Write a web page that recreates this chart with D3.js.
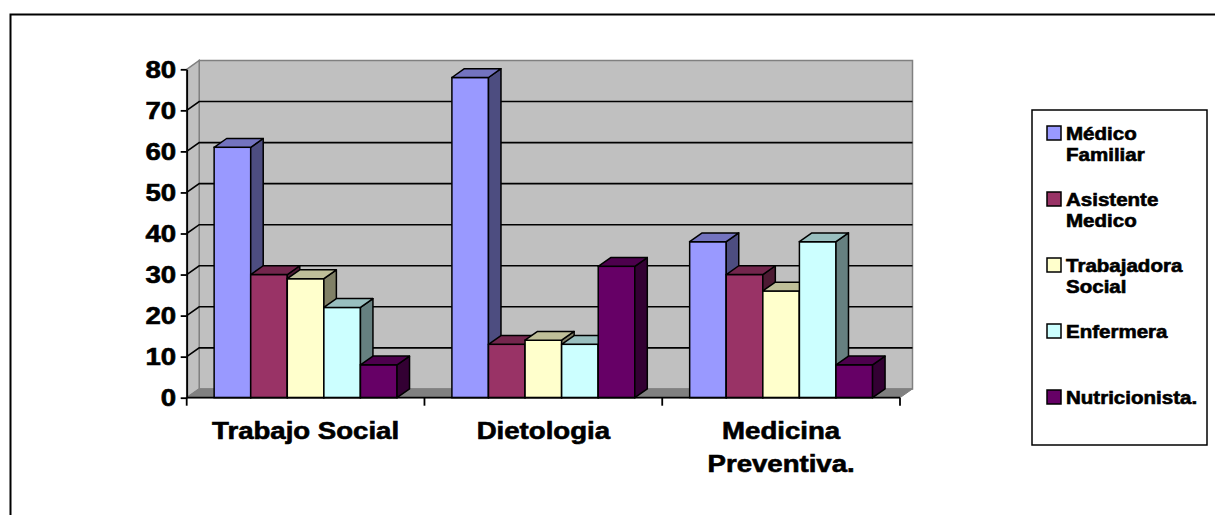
<html>
<head>
    <meta charset="utf-8">
    <script src="https://d3js.org/d3.v7.min.js" charset="utf-8"></script>
    <style type="text/css">
        body { margin: 0; background: #fff; }
        text { font-family: "Liberation Sans", Arial, sans-serif; font-weight: bold; fill: #000; stroke: #000; stroke-width: 0.6px; }
    </style>
</head>
<body>
<div id="chart"></div>
<script>
    // data
    var categories = ["Trabajo Social", "Dietologia", "Medicina Preventiva."];
    var categoryLines = [["Trabajo Social"], ["Dietologia"], ["Medicina", "Preventiva."]];
    var seriesNames = ["Médico Familiar", "Asistente Medico", "Trabajadora Social", "Enfermera", "Nutricionista."];
    var legendLines = [["Médico", "Familiar"], ["Asistente", "Medico"], ["Trabajadora", "Social"], ["Enfermera"], ["Nutricionista."]];
    var medicoFamiliar = [61, 78, 38];
    var asistenteMedico = [30, 13, 30];
    var trabajadoraSocial = [29, 14, 26];
    var enfermera = [22, 13, 38];
    var nutricionista = [8, 32, 8];
    var yTicks = [0, 10, 20, 30, 40, 50, 60, 70, 80];

    var seriesValues = [medicoFamiliar, asistenteMedico, trabajadoraSocial, enfermera, nutricionista];
    var colors = ["#9999FF", "#993366", "#FFFFCC", "#CCFFFF", "#660066"];

    var W = 1215, H = 515;
    var x0 = 186.7, x1 = 900, yBase = 397.7, yTopPx = 69.3;
    var dx = 12.5, dy = -8.8;   // depth offset
    var sx = 1.2;               // horizontal stretch of the text

    var svg = d3.select('#chart').append('svg')
        .attr('width', W)
        .attr('height', H);

    // outer frame (runs off the right and bottom edges)
    svg.append('rect')
        .attr('x', 10.5).attr('y', 14.5)
        .attr('width', 1400).attr('height', 700)
        .style('fill', 'none').style('stroke', '#000').style('stroke-width', 2);

    var yScale = d3.scaleLinear().domain([0, 80]).range([yBase, yTopPx]);
    var xScale = d3.scaleBand().domain(categories).range([x0, x1]);
    var sScale = d3.scaleBand().domain(seriesNames)
        .range([0, xScale.bandwidth()])
        .paddingInner(0).paddingOuter(0.75);

    function pts(a) { return a.map(function(p){ return p.join(','); }).join(' '); }
    function shade(c, k) {
        var r = d3.rgb(c);
        return d3.rgb(r.r * k, r.g * k, r.b * k).formatHex();
    }

    var yT = yScale(80), y0 = yScale(0);

    // walls and floor
    svg.append('polygon')
        .attr('points', pts([[x0 + dx, yT + dy], [x1 + dx, yT + dy], [x1 + dx, y0 + dy], [x0 + dx, y0 + dy]]))
        .style('fill', '#c0c0c0').style('stroke', '#808080').style('stroke-width', 1.5);
    svg.append('polygon')
        .attr('points', pts([[x0, yT], [x0 + dx, yT + dy], [x0 + dx, y0 + dy], [x0, y0]]))
        .style('fill', '#c0c0c0').style('stroke', '#808080').style('stroke-width', 1.5);
    svg.append('polygon')
        .attr('points', pts([[x0, y0], [x1, y0], [x1 + dx, y0 + dy], [x0 + dx, y0 + dy]]))
        .style('fill', '#808080').style('stroke', '#808080').style('stroke-width', 1);

    // gridlines
    svg.append('g').selectAll('polyline')
        .data(yTicks.filter(function(d){ return d > 0 && d < 80; }))
        .enter().append('polyline')
        .attr('points', function(d){
            var y = yScale(d);
            return pts([[x0, y], [x0 + dx, y + dy], [x1 + dx, y + dy]]);
        })
        .style('fill', 'none').style('stroke', '#000').style('stroke-width', 1.6);

    // bars, painted left to right
    var bars = [];
    categories.forEach(function(c, ci){
        seriesNames.forEach(function(s, si){
            bars.push({ cat: c, ser: s, si: si, v: seriesValues[si][ci] });
        });
    });

    var bw = sScale.bandwidth();
    var barG = svg.append('g').selectAll('g')
        .data(bars)
        .enter().append('g');

    barG.append('rect')
        .attr('x', function(d){ return xScale(d.cat) + sScale(d.ser); })
        .attr('y', function(d){ return yScale(d.v); })
        .attr('width', bw)
        .attr('height', function(d){ return y0 - yScale(d.v); })
        .style('fill', function(d){ return colors[d.si]; })
        .style('stroke', '#000').style('stroke-width', 1.5);
    barG.append('polygon')
        .attr('points', function(d){
            var l = xScale(d.cat) + sScale(d.ser), r = l + bw, t = yScale(d.v);
            return pts([[r, t], [r + dx, t + dy], [r + dx, y0 + dy], [r, y0]]);
        })
        .style('fill', function(d){ return shade(colors[d.si], 0.5); })
        .style('stroke', '#000').style('stroke-width', 1.5).style('stroke-linejoin', 'round');
    barG.append('polygon')
        .attr('points', function(d){
            var l = xScale(d.cat) + sScale(d.ser), r = l + bw, t = yScale(d.v);
            return pts([[l, t], [r, t], [r + dx, t + dy], [l + dx, t + dy]]);
        })
        .style('fill', function(d){ return shade(colors[d.si], 0.75); })
        .style('stroke', '#000').style('stroke-width', 1.5).style('stroke-linejoin', 'round');

    // vertical axis
    var vAxis = d3.axisLeft(yScale)
        .tickValues(yTicks)
        .tickSize(6)
        .tickSizeOuter(0)
        .tickPadding(2.8);
    var vGuide = svg.append('g')
        .attr('transform', 'translate(' + x0 + ',0)')
        .call(vAxis);
    vGuide.select('.domain').style('stroke', '#000').style('stroke-width', 1.8);
    vGuide.selectAll('line').style('stroke', '#000').style('stroke-width', 1.8);
    vGuide.selectAll('text')
        .attr('transform', 'scale(' + sx + ',1)')
        .style('font-family', '"Liberation Sans", Arial, sans-serif')
        .style('font-weight', 'bold')
        .style('font-size', '23px')
        .attr('dy', '0.36em');

    // horizontal axis
    svg.append('line')
        .attr('x1', x0).attr('x2', x1).attr('y1', y0).attr('y2', y0)
        .style('stroke', '#000').style('stroke-width', 1.8);
    var bounds = categories.map(function(c){ return xScale(c); }).concat([x1]);
    svg.append('g').selectAll('line')
        .data(bounds)
        .enter().append('line')
        .attr('x1', function(d){ return d; }).attr('x2', function(d){ return d; })
        .attr('y1', y0).attr('y2', y0 + 8)
        .style('stroke', '#000').style('stroke-width', 1.8);

    var catText = svg.append('g').selectAll('g')
        .data(categories)
        .enter().append('g')
        .attr('transform', function(d){
            return 'translate(' + (xScale(d) + xScale.bandwidth() / 2) + ',439) scale(' + sx + ',1)';
        });
    catText.append('text')
        .attr('text-anchor', 'middle')
        .style('font-size', '23px')
        .selectAll('tspan')
        .data(function(d, i){ return categoryLines[i]; })
        .enter().append('tspan')
        .attr('x', 0)
        .attr('y', function(d, i){ return i * 33; })
        .text(function(d){ return d; });

    // legend
    svg.append('rect')
        .attr('x', 1032).attr('y', 110)
        .attr('width', 175).attr('height', 335)
        .style('fill', '#fff').style('stroke', '#000').style('stroke-width', 1.5);

    var legendRow = d3.scaleLinear().domain([0, 4]).range([133, 397]);
    var lg = svg.append('g').selectAll('g')
        .data(seriesNames)
        .enter().append('g')
        .attr('transform', function(d, i){ return 'translate(0,' + legendRow(i) + ')'; });
    lg.append('rect')
        .attr('x', 1047).attr('y', -7)
        .attr('width', 14).attr('height', 14)
        .style('fill', function(d, i){ return colors[i]; })
        .style('stroke', '#000').style('stroke-width', 1.5);
    lg.append('g')
        .attr('transform', 'translate(1066,0) scale(1.14,1)')
        .append('text')
        .style('font-size', '18px')
        .selectAll('tspan')
        .data(function(d, i){ return legendLines[i]; })
        .enter().append('tspan')
        .attr('x', 0)
        .attr('y', function(d, i){ return 6.5 + i * 22; })
        .text(function(d){ return d; });
</script>
</body>
</html>
